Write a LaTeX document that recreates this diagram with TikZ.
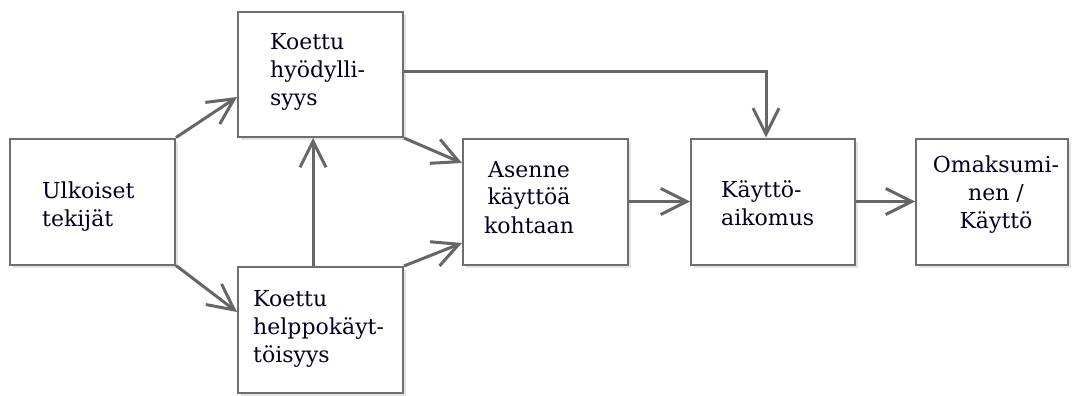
\documentclass[tikz,border=0pt]{standalone}
\usepackage{fontspec}
\setmainfont{DejaVu Serif}
\usetikzlibrary{arrows.meta,shadows}
\definecolor{edgegray}{HTML}{666666}
\definecolor{framegray}{HTML}{6E6E6E}
\begin{document}
\begin{tikzpicture}[x=1pt,y=-1pt,
  box/.style={draw=framegray, line width=2pt, fill=white, minimum width=165pt,
    minimum height=126pt, inner sep=0pt,
    drop shadow={opacity=0.22, shadow xshift=3pt, shadow yshift=-3pt}},
  lbl/.style={font=\fontsize{22}{28}\selectfont, inner sep=0pt, text=black!85!blue},
  conn/.style={draw=edgegray, line width=3pt,
    -{Straight Barb[length=26pt,width=26pt]}}]
\useasboundingbox (0,0) rectangle (1072,396);
% boxes
\node[box] (ulk) at (92.5,201.5) {};
\node[box, minimum height=125pt] (hyo) at (320.5,74.5) {};
\node[box] (hel) at (320.5,330) {};
\node[box] (ase) at (545.5,201.5) {};
\node[box, minimum width=164pt] (aik) at (773,201.5) {};
\node[box, minimum width=152pt] (oma) at (992,201.5) {};
% texts
\node[lbl, anchor=base west] (tulk) at (42,198) {\begin{tabular}[t]{@{}l@{}}Ulkoiset\\tekijät\end{tabular}};
\node[lbl, anchor=base west] (thyo) at (270,50) {\begin{tabular}[t]{@{}l@{}}Koettu\\hyödylli-\\syys\end{tabular}};
\node[lbl, anchor=base west] (thel) at (253,306) {\begin{tabular}[t]{@{}l@{}}Koettu\\helppokäyt-\\töisyys\end{tabular}};
\node[lbl, anchor=base] (tase) at (529,177) {\begin{tabular}[t]{@{}c@{}}Asenne\\käyttöä\\kohtaan\end{tabular}};
\node[lbl, anchor=base west] (taik) at (721,197) {\begin{tabular}[t]{@{}l@{}}Käyttö-\\aikomus\end{tabular}};
\node[lbl, anchor=base] (toma) at (996,172) {\begin{tabular}[t]{@{}c@{}}Omaksumi-\\nen /\\Käyttö\end{tabular}};
% connectors
\draw[conn] (ulk.north east) -- ([yshift=-22.5pt]hyo.west);
\draw[conn] (ulk.south east) -- ([yshift=18pt]hel.west);
\draw[conn] ([xshift=-7.5pt]hel.north) -- ([xshift=-7.5pt]hyo.south);
\draw[conn] (hyo.south east) -- ([yshift=38.5pt]ase.west);
\draw[conn] (hel.north east) -- ([yshift=-41.5pt]ase.west);
\draw[conn] (ase.east) -- (aik.west);
\draw[conn] (aik.east) -- (oma.west);
\draw[conn] ([yshift=2.5pt]hyo.east) -| ([xshift=-7pt]aik.north);
\end{tikzpicture}
\end{document}
